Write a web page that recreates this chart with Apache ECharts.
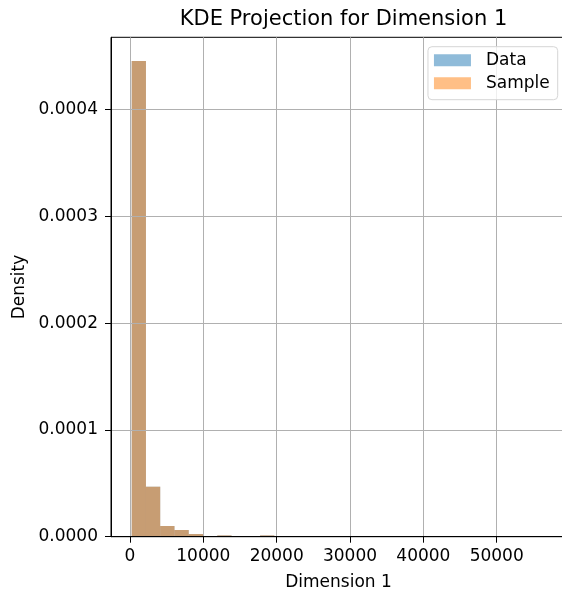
<!DOCTYPE html>
<html>
<head>
<meta charset="utf-8">
<script src="https://cdn.jsdelivr.net/npm/echarts@6/dist/echarts.min.js"></script>
<style>
html,body{margin:0;padding:0;background:#fff;}
#chart{width:562px;height:592px;}
</style>
</head>
<body>
<div id="chart"></div>
<script>
// Histogram bin edges (Dimension 1)
const binEdges = [230, 2175, 4120, 6065, 8010, 9955, 11900, 13845, 15790, 17735,
  19680, 21625, 23570, 25515, 27460, 29405, 31350, 33295, 35240, 37185,
  39130, 41075, 43020, 44965, 46910, 48855, 50800, 52745, 54690, 56635];
// Density per bin
const dataDensity = [0.0004453, 0.0000468, 0.0000100, 0.0000063, 0.0000025, 0, 0.0000012, 0, 0, 0.0000012,
  0, 0, 0, 0, 0, 0, 0, 0, 0, 0, 0, 0, 0, 0, 0, 0, 0, 0, 0.0000001];
const sampleDensity = [0.0004453, 0.0000468, 0.0000100, 0.0000063, 0.0000025, 0, 0.0000012, 0, 0, 0.0000012,
  0, 0, 0, 0, 0, 0, 0, 0, 0, 0, 0, 0, 0, 0, 0, 0, 0, 0, 0.0000001];
const xTicks = [0, 10000, 20000, 30000, 40000, 50000];
const yTicks = [0, 0.0001, 0.0002, 0.0003, 0.0004];
const seriesNames = ['Data', 'Sample'];
const titleText = 'KDE Projection for Dimension 1';
const xName = 'Dimension 1';
const yName = 'Density';

const colors = ['rgba(31,119,180,0.5)', 'rgba(255,127,14,0.5)'];
const FONT = 'DejaVu Sans';

function toBins(vals) {
  return vals.map((v, i) => [binEdges[i], binEdges[i + 1], v]);
}
function makeRender(color) {
  return function (params, api) {
    const p0 = api.coord([api.value(0), api.value(2)]);
    const p1 = api.coord([api.value(1), 0]);
    return {
      type: 'rect',
      shape: { x: p0[0], y: p0[1], width: p1[0] - p0[0], height: p1[1] - p0[1] },
      style: { fill: color }
    };
  };
}

const chart = echarts.init(document.getElementById('chart'), null, { renderer: 'canvas' });
chart.setOption({
  animation: false,
  backgroundColor: '#fff',
  title: {
    text: titleText,
    left: 338.5, textAlign: 'center',
    top: 4,
    textStyle: { fontFamily: FONT, fontSize: 21, fontWeight: 'normal', color: '#000' }
  },
  legend: {
    data: seriesNames.map((n, i) => ({ name: n, icon: 'rect', itemStyle: { color: colors[i] } })),
    orient: 'vertical',
    right: 4.3, top: 46.7,
    itemWidth: 37, itemHeight: 12, itemGap: 6,
    padding: [5, 8, 8, 6],
    backgroundColor: 'rgba(255,255,255,0.8)',
    borderColor: '#d6d6d6', borderWidth: 1, borderRadius: 4,
    z: 10,
    textStyle: { fontFamily: FONT, fontSize: 17, color: '#000', padding: [0, 0, 0, 10] }
  },
  grid: {
    left: 111, right: -4, top: 37.3, bottom: 55.3,
    show: true, borderColor: '#000', borderWidth: 1,
    containLabel: false, outerBoundsMode: 'none'
  },
  xAxis: {
    type: 'value', min: -2590, max: 59450, z: 5,
    name: xName, nameLocation: 'middle', nameGap: 37,
    nameTextStyle: { fontFamily: FONT, fontSize: 17, color: '#000' },
    axisLine: { show: true, onZero: false, lineStyle: { color: '#000', width: 1 } },
    axisTick: { show: true, length: 6, lineStyle: { color: '#000', width: 1 }, customValues: xTicks },
    axisLabel: { margin: 11, fontFamily: FONT, fontSize: 17, color: '#000', customValues: xTicks,
      formatter: v => String(v) },
    splitLine: { show: true, lineStyle: { color: '#b0b0b0', width: 1 } }
  },
  yAxis: {
    type: 'value', min: 0, max: 0.0004676, z: 5,
    name: yName, nameLocation: 'middle', nameGap: 82,
    nameTextStyle: { fontFamily: FONT, fontSize: 17, color: '#000' },
    axisLine: { show: true, onZero: false, lineStyle: { color: '#000', width: 1 } },
    axisTick: { show: true, length: 6, lineStyle: { color: '#000', width: 1 }, customValues: yTicks },
    axisLabel: { margin: 13, fontFamily: FONT, fontSize: 17, color: '#000', customValues: yTicks,
      formatter: v => v.toFixed(4) },
    splitLine: { show: true, lineStyle: { color: '#b0b0b0', width: 1 } }
  },
  series: [
    { name: seriesNames[0], type: 'custom', color: colors[0], renderItem: makeRender(colors[0]),
      encode: { x: [0, 1], y: 2 }, data: toBins(dataDensity), z: 2 },
    { name: seriesNames[1], type: 'custom', color: colors[1], renderItem: makeRender(colors[1]),
      encode: { x: [0, 1], y: 2 }, data: toBins(sampleDensity), z: 2 }
  ]
});
</script>
</body>
</html>
